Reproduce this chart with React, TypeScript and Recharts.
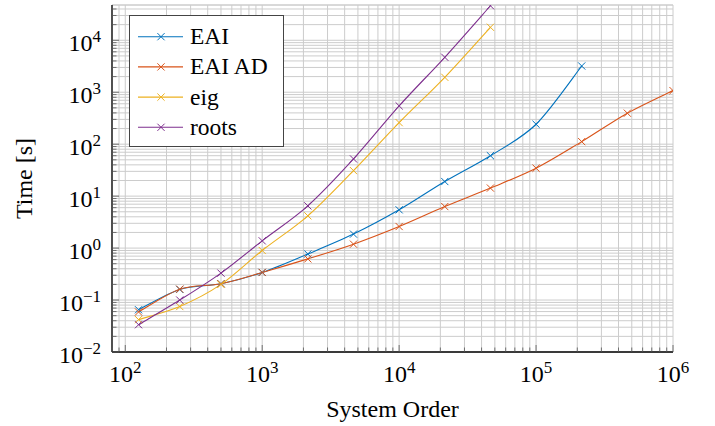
import React from 'react';
import { LineChart, Line, XAxis, YAxis, CartesianGrid, ReferenceLine, Legend } from 'recharts';

// ---- data ----
const systemOrder = [125, 250, 500, 1000, 2154, 4642, 10000, 21544, 46416, 100000, 215443, 464159, 1000000];
const eaiTime = [0.065, 0.16, 0.206, 0.34, 0.77, 1.86, 5.45, 19.1, 60, 242, 3200];
const eaiAdTime = [0.059, 0.162, 0.206, 0.34, 0.62, 1.19, 2.6, 6.3, 14.3, 34.5, 112, 395, 1075];
const eigTime = [0.042, 0.075, 0.2, 0.9, 4.18, 31, 260, 1940, 17800];
const rootsTime = [0.0335, 0.1, 0.33, 1.38, 6.5, 52, 546, 4710, 46200];

const seriesNames = ['EAI', 'EAI AD', 'eig', 'roots'];
const seriesColors = ['#0072BD', '#D95319', '#EDB120', '#7E2F8E'];
const seriesValues = [eaiTime, eaiAdTime, eigTime, rootsTime];

// ---- ticks ----
const xMajorTicks = [100, 1000, 10000, 100000, 1000000];
const xMajorExponents = ['2', '3', '4', '5', '6'];
const yMajorTicks = [0.01, 0.1, 1, 10, 100, 1000, 10000];
const yMajorExponents = ['\u22122', '\u22121', '0', '1', '2', '3', '4'];
const minorMultipliers = [2, 3, 4, 5, 6, 7, 8, 9];
const xDecades = [10, 100, 1000, 10000, 100000];
const yDecades = [0.01, 0.1, 1, 10, 100, 1000, 10000];
const xDomain = [80, 1000000];
const yDomain = [0.01, 47750];

const xMinorTicks = xDecades.flatMap(d => minorMultipliers.map(m => m * d)).filter(v => v >= xDomain[0] && v <= xDomain[1]);
const yMinorTicks = yDecades.flatMap(d => minorMultipliers.map(m => m * d)).filter(v => v >= yDomain[0] && v <= yDomain[1]);
const xTicks = [...xMajorTicks, ...xMinorTicks].sort((a, b) => a - b);
const yTicks = [...yMajorTicks, ...yMinorTicks].sort((a, b) => a - b);

const FONT = "'Liberation Serif', 'Times New Roman', serif";
const GRID = '#cccccc';

// smooth curve similar to TikZ "smooth" (cardinal spline)
const smoothCurve: any = (context: any) => {
  let pts: [number, number][] = [];
  const K = 0.16;
  return {
    areaStart() {},
    areaEnd() {},
    lineStart() { pts = []; },
    point(x: number, y: number) { pts.push([+x, +y]); },
    lineEnd() {
      if (!pts.length) return;
      context.moveTo(pts[0][0], pts[0][1]);
      for (let i = 0; i < pts.length - 1; i++) {
        const p0 = pts[Math.max(0, i - 1)];
        const p1 = pts[i];
        const p2 = pts[i + 1];
        const p3 = pts[Math.min(pts.length - 1, i + 2)];
        const c1x = p1[0] + (p2[0] - p0[0]) * K;
        const c1y = p1[1] + (p2[1] - p0[1]) * K;
        const c2x = p2[0] - (p3[0] - p1[0]) * K;
        const c2y = p2[1] - (p3[1] - p1[1]) * K;
        context.bezierCurveTo(c1x, c1y, c2x, c2y, p2[0], p2[1]);
      }
    },
  };
};

const findMajor = (list: number[], v: number) => list.findIndex(t => Math.abs(t - v) / t < 1e-9);

const XTick = (props: any) => {
  const { x, y, payload } = props;
  const idx = findMajor(xMajorTicks, payload.value);
  const major = idx >= 0;
  return (
    <g>
      <line x1={x} x2={x} y1={y} y2={y - (major ? 7 : 4.5)} stroke="#555" strokeWidth={0.8} />
      {major && (
        <text x={x} y={y + 30} textAnchor="middle" fontFamily={FONT} fontSize={24} fill="#000">
          <tspan>10</tspan>
          <tspan dy={-9} fontSize={17}>{xMajorExponents[idx]}</tspan>
        </text>
      )}
    </g>
  );
};

const YTick = (props: any) => {
  const { x, y, payload } = props;
  const idx = findMajor(yMajorTicks, payload.value);
  const major = idx >= 0;
  return (
    <g>
      <line x1={x} x2={x + (major ? 7 : 4.5)} y1={y} y2={y} stroke="#555" strokeWidth={0.8} />
      {major && (
        <text x={x - 11} y={y + 10.5} textAnchor="end" fontFamily={FONT} fontSize={24} fill="#000">
          <tspan>10</tspan>
          <tspan dy={-9} fontSize={17}>{yMajorExponents[idx]}</tspan>
        </text>
      )}
    </g>
  );
};

const makeCross = (color: string) => (p: any) => {
  const { cx, cy, index } = p;
  if (cx == null || cy == null) return <g key={`n${index}`} />;
  const s = 3.6;
  return (
    <path
      key={`d${index}`}
      d={`M${cx - s},${cy - s}L${cx + s},${cy + s}M${cx - s},${cy + s}L${cx + s},${cy - s}`}
      stroke={color}
      strokeWidth={1}
      fill="none"
    />
  );
};

const LegendBox = () => (
  <svg width={156} height={133} style={{ display: 'block' }}>
    <rect x={0.5} y={0.5} width={154} height={131} fill="#fff" stroke="#444" strokeWidth={1} />
    {seriesNames.map((name, i) => {
      const cy = 21.7 + i * 30.2;
      const c = seriesColors[i];
      const s = 3.6;
      return (
        <g key={name}>
          <line x1={9} x2={54} y1={cy} y2={cy} stroke={c} strokeWidth={1.1} />
          <path d={`M${32 - s},${cy - s}L${32 + s},${cy + s}M${32 - s},${cy + s}L${32 + s},${cy - s}`} stroke={c} strokeWidth={1} fill="none" />
          <text x={61} y={cy + 7.5} fontFamily={FONT} fontSize={23.5} fill="#000">{name}</text>
        </g>
      );
    })}
  </svg>
);

export default function App() {
  return (
    <div style={{ position: 'absolute', left: 0, top: 0, width: 715, height: 426, background: '#fff' }}>
      <LineChart width={715} height={426} margin={{ top: 5, right: 42, bottom: 14, left: 32 }}>
        <CartesianGrid stroke={GRID} strokeWidth={1} />
        <ReferenceLine y={yDomain[1]} stroke={GRID} strokeWidth={1} ifOverflow="extendDomain" />
        <XAxis
          dataKey="x"
          type="number"
          scale="log"
          domain={xDomain}
          ticks={xTicks}
          interval={0}
          allowDataOverflow
          height={60}
          tickSize={0}
          tickMargin={0}
          tickLine={false}
          axisLine={{ stroke: '#000', strokeWidth: 1.3 }}
          tick={<XTick />}
          label={{
            content: (p: any) => {
              const vb = p.viewBox || { x: 112, y: 352, width: 561, height: 60 };
              return (
                <text x={vb.x + vb.width / 2} y={vb.y + 65} textAnchor="middle" fontFamily={FONT} fontSize={24} fill="#000">
                  System Order
                </text>
              );
            },
          }}
        />
        <YAxis
          dataKey="y"
          type="number"
          scale="log"
          domain={yDomain}
          ticks={yTicks}
          interval={0}
          allowDataOverflow
          width={80}
          tickSize={0}
          tickMargin={0}
          tickLine={false}
          axisLine={{ stroke: '#000', strokeWidth: 1.3 }}
          tick={<YTick />}
          label={{
            content: (p: any) => {
              const vb = p.viewBox || { x: 32, y: 5, width: 80, height: 347 };
              return (
                <text
                  transform={`translate(${vb.x},${vb.y + vb.height / 2}) rotate(-90)`}
                  textAnchor="middle"
                  fontFamily={FONT}
                  fontSize={24}
                  fill="#000"
                >
                  Time [s]
                </text>
              );
            },
          }}
        />
        {seriesValues.map((vals, i) => (
          <Line
            key={seriesNames[i]}
            name={seriesNames[i]}
            data={vals.map((v, j) => ({ x: systemOrder[j], y: v }))}
            dataKey="y"
            type={smoothCurve}
            stroke={seriesColors[i]}
            strokeWidth={1.1}
            dot={makeCross(seriesColors[i])}
            activeDot={false}
            isAnimationActive={false}
          />
        ))}
        <Legend
          layout="vertical"
          align="center"
          verticalAlign="middle"
          wrapperStyle={{ position: 'absolute', left: 129, top: 15, width: 156, height: 133 }}
          content={() => <LegendBox />}
        />
      </LineChart>
    </div>
  );
}
